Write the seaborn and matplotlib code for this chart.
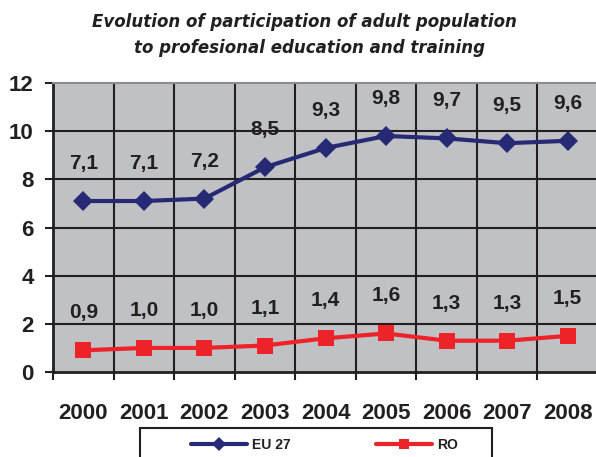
import numpy as np
import pandas as pd
import matplotlib
matplotlib.use('Agg')
import matplotlib.pyplot as plt
import seaborn as sns
from matplotlib.patches import Rectangle

years = ['2000', '2001', '2002', '2003', '2004', '2005', '2006', '2007', '2008']
eu27 = [7.1, 7.1, 7.2, 8.5, 9.3, 9.8, 9.7, 9.5, 9.6]
ro = [0.9, 1.0, 1.0, 1.1, 1.4, 1.6, 1.3, 1.3, 1.5]
series_names = ['EU 27', 'RO']

sns.set_style('white')
plt.rcParams['font.family'] = ['Liberation Sans', 'DejaVu Sans']
plt.rcParams['font.weight'] = 'bold'

# long form table for seaborn
df = pd.DataFrame({
    'pos': list(range(len(years))) * 2,
    'value': eu27 + ro,
    'series': ['EU 27'] * len(years) + ['RO'] * len(years),
})

fig = plt.figure(figsize=(5.96, 4.57), dpi=100)
ax = fig.add_axes([53 / 596, 1 - 372 / 457, 545 / 596, 289 / 457])
ax.set_facecolor('#c0c1c5')

colors = {'EU 27': '#262a75', 'RO': '#ee2229'}
sns.lineplot(data=df, x='pos', y='value', hue='series', style='series',
             markers={'EU 27': 'D', 'RO': 's'}, dashes=False,
             palette=colors, linewidth=3, markersize=10, markeredgewidth=0,
             ax=ax, legend=True)

# marker sizes differ per series
for line in ax.lines:
    if matplotlib.colors.to_hex(line.get_color()) == colors['RO']:
        line.set_markersize(11.5)

# data labels
for vals in (eu27, ro):
    for i, v in enumerate(vals):
        ax.annotate(f'{v:.1f}'.replace('.', ','), (i, v), xytext=(0, 27),
                    textcoords='offset points', ha='center', va='center',
                    fontsize=15, fontweight='bold', color='#231f20')

ax.set_xlim(-0.5, 8.5)
ax.set_ylim(0, 12)
ax.set_xticks(range(len(years)))
ax.set_xticklabels(years)
ax.set_xticks(np.arange(-0.5, 9, 1), minor=True)
ax.set_yticks(range(0, 13, 2))
ax.set_xlabel('')
ax.set_ylabel('')

ax.tick_params(axis='x', which='major', length=0, pad=22, labelsize=16, labelcolor='#231f20')
ax.tick_params(axis='x', which='minor', length=6, width=1.5, color='#231f20', direction='out', bottom=True)
ax.tick_params(axis='y', length=6, width=1.5, color='#231f20', direction='out', left=True, pad=8,
               labelsize=16, labelcolor='#231f20')
for lab in ax.get_xticklabels() + ax.get_yticklabels():
    lab.set_fontweight('bold')

ax.grid(False)
ax.grid(True, axis='x', which='minor', color='#231f20', linewidth=1.5)
for y in range(2, 12, 2):
    ax.axhline(y, color='#231f20', linewidth=1.5, zorder=0.5)
ax.set_axisbelow(True)

for s in ['left', 'bottom']:
    ax.spines[s].set_color('#231f20')
    ax.spines[s].set_linewidth(2)
ax.spines['top'].set_color('#8a8b8e')
ax.spines['top'].set_linewidth(1.5)
ax.spines['right'].set_visible(False)

title_font = ['DejaVu Sans']
fig.text(304 / 596, 1 - 22 / 457, 'Evolution of participation of adult population',
         ha='center', va='center', fontsize=12, fontweight='bold', style='italic',
         color='#231f20', family=title_font)
fig.text(310 / 596, 1 - 48 / 457, 'to profesional education and training',
         ha='center', va='center', fontsize=12, fontweight='bold', style='italic',
         color='#231f20', family=title_font)

handles, labels = ax.get_legend_handles_labels()
ax.get_legend().remove()
leg = fig.legend(handles, labels, loc='center left', bbox_to_anchor=(184 / 596, 1 - 445 / 457),
                 ncol=2, frameon=False, fontsize=10, borderpad=0, handlelength=4.0,
                 handletextpad=0.36, columnspacing=6.2)
for h in leg.legend_handles:
    h.set_markersize(7)
for t in leg.get_texts():
    t.set_fontweight('bold')
    t.set_color('#231f20')

fig.patches.append(Rectangle((140 / 596, -0.05), 352 / 596, 1 - 428 / 457 + 0.05,
                             transform=fig.transFigure, fill=False,
                             edgecolor='#231f20', linewidth=1.5))

fig.savefig('out.png', dpi=100)
